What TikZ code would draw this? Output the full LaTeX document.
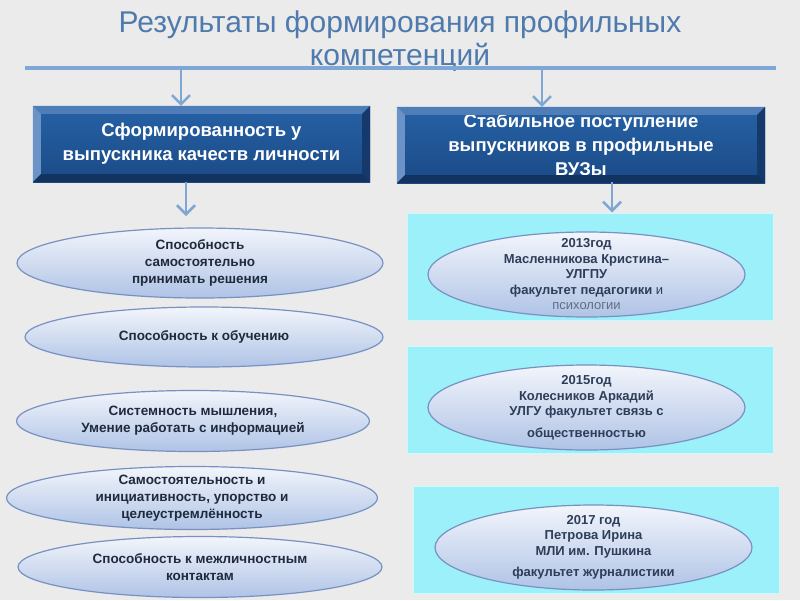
\documentclass[tikz,border=0pt]{standalone}
\usepackage{fontspec}
\setmainfont{Liberation Sans}
\usepackage{xcolor}
\definecolor{pagegray}{HTML}{EBEBEB}
\definecolor{titleblue}{HTML}{4F7AAD}
\definecolor{lineblue}{HTML}{7FA7D6}
\definecolor{boxtop}{HTML}{2662A6}
\definecolor{boxbot}{HTML}{1B4A86}
\definecolor{bevlight}{HTML}{6C93C7}
\definecolor{bevtop}{HTML}{4F7DB8}
\definecolor{bevdark}{HTML}{15396A}
\definecolor{bevbot}{HTML}{123360}
\definecolor{elltop}{HTML}{F2F5FB}
\definecolor{ellbot}{HTML}{AFC3E6}
\definecolor{ellline}{HTML}{7891C2}
\definecolor{paneltone}{HTML}{9CF0F9}
\definecolor{textdark}{HTML}{1F2A3D}
\definecolor{textslate}{HTML}{2E3D58}
\usetikzlibrary{arrows.meta,positioning,shapes.geometric,calc,backgrounds}
\tikzset{
  ttl/.style={align=center, text=titleblue, font=\fontsize{30}{33}\selectfont},
  bbox/.style={top color=boxtop, bottom color=boxbot, text=white, align=center,
               font=\bfseries\fontsize{18.5}{24}\selectfont, inner sep=0pt},
  lell/.style={ellipse, draw=ellline, line width=1.2pt, top color=elltop,
               bottom color=ellbot, inner sep=0pt},
  ltext/.style={align=center, text=textdark, font=\bfseries\fontsize{13.5}{17}\selectfont},
  rtext/.style={align=center, text=textslate, font=\bfseries\fontsize{13}{15.5}\selectfont},
  panel/.style={fill=paneltone, draw=paneltone!50!white, line width=1pt,
                minimum width=366pt, minimum height=107pt, inner sep=0pt},
  ar/.style={draw=lineblue, line width=2.5pt, -{Straight Barb[length=9pt,width=18pt]}},
}
\newcommand\bevel[1]{%
  \fill[bevtop] (#1.north west) -- (#1.north east) -- ($(#1.north east)+(-8,8)$) -- ($(#1.north west)+(8,8)$) -- cycle;
  \fill[bevlight] (#1.north west) -- ($(#1.north west)+(8,8)$) -- ($(#1.south west)+(8,-8)$) -- (#1.south west) -- cycle;
  \fill[bevdark] (#1.north east) -- ($(#1.north east)+(-8,8)$) -- ($(#1.south east)+(-8,-8)$) -- (#1.south east) -- cycle;
  \fill[bevbot] (#1.south west) -- ($(#1.south west)+(8,-8)$) -- ($(#1.south east)+(-8,-8)$) -- (#1.south east) -- cycle;
}
\begin{document}
\begin{tikzpicture}[x=1pt, y=-1pt]
  \fill[pagegray] (0,0) rectangle (800,600);
  \useasboundingbox (0,0) rectangle (800,600);

  \node[ttl] (ttl) at (400,41) {Результаты формирования профильных\\компетенций};
  \coordinate (lnl) at (25,68);
  \coordinate (lnr) at (776,68);
  \draw[lineblue, line width=3.5pt] (lnl) -- (lnr);

  % two headings
  \node[bbox, minimum width=337pt, minimum height=76pt] (kach) at (201.5,144)
    {Сформированность у\\выпускника качеств личности};
  \node[bbox, minimum width=368pt, minimum height=76pt] (vuz) at (581,145)
    {Стабильное поступление\\выпускников в профильные\\ВУЗы};
  \bevel{kach}
  \bevel{vuz}
  \coordinate (al) at (181,68);
  \coordinate (ar) at (542,68);
  \draw[ar] (al) -- (al |- kach.north);
  \draw[ar] (ar) -- (ar |- vuz.north);

  % qualities
  \node[lell, minimum width=366pt, minimum height=70pt,
        label={[ltext]center:{Способность\\самостоятельно\\принимать решения}}] (q1) at (200,263) {};
  \node[lell, minimum width=358pt, minimum height=60pt,
        label={[ltext]center:{Способность к обучению}}] (q2) at (204,337) {};
  \node[lell, minimum width=353pt, minimum height=61pt,
        label={[ltext]center:{Системность мышления,\\Умение работать с информацией}}] (q3) at (193,421) {};
  \node[lell, minimum width=371pt, minimum height=63pt,
        label={[ltext]center:{Самостоятельность и\\инициативность, упорство и\\целеустремлённость}}] (q4) at (192,498) {};
  \node[lell, minimum width=364pt, minimum height=61pt,
        label={[ltext]center:{Способность к межличностным\\контактам}}] (q5) at (200,567) {};
  \coordinate (bl) at (186,182);
  \draw[ar] (bl) -- (186,216);

  % graduates
  \node[panel] (p1) at (590,266.5) {};
  \node[panel] (p2) at (590,400) {};
  \node[panel] (p3) at (596.5,540) {};
  \node[lell, minimum width=317pt, minimum height=85pt,
        label={[rtext]center:{2013год\\Масленникова Кристина--\\УЛГПУ\\факультет педагогики \mdseries и\\
          \mdseries\color{textslate!75}психологии}}] (g1) at (586.5,274.5) {};
  \node[lell, minimum width=317pt, minimum height=85pt,
        label={[rtext]center:{2015год\\Колесников Аркадий\\УЛГУ факультет связь с\\[6pt]общественностью}}] (g2) at (586.5,407.5) {};
  \node[lell, minimum width=317pt, minimum height=85pt,
        label={[rtext]center:{2017 год\\Петрова Ирина\\МЛИ им. Пушкина\\[6pt]факультет журналистики}}] (g3) at (593.5,547.5) {};
  \coordinate (br) at (612,182);
  \draw[ar] (br) -- (br |- p1.north);
\end{tikzpicture}
\end{document}
